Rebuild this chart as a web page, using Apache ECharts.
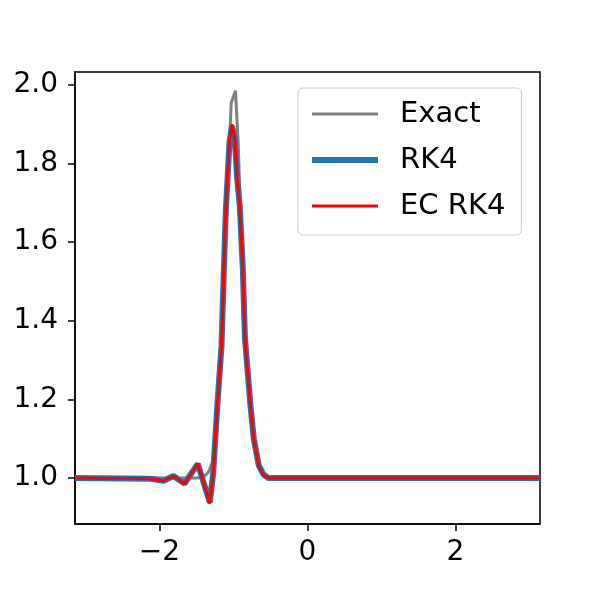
<!DOCTYPE html>
<html>
<head>
<meta charset="utf-8">
<script src="https://cdn.jsdelivr.net/npm/echarts@6/dist/echarts.min.js"></script>
<style>
  html, body { margin: 0; padding: 0; background: #fff; }
  #chart { width: 600px; height: 600px; }
</style>
</head>
<body>
<div id="chart"></div>
<script>
// exact solution samples
const xExact = [-3.1416, -1.514, -1.405, -1.338, -1.284, -1.230, -1.176, -1.122, -1.074,
  -1.031, -0.973, -0.936, -0.905, -0.865, -0.824, -0.770, -0.716, -0.662, -0.595, -0.527, 3.1416];
const yExact = [1.0, 1.0, 1.002, 1.015, 1.04, 1.12, 1.28, 1.52, 1.76,
  1.954, 1.985, 1.85, 1.67, 1.46, 1.30, 1.17, 1.08, 1.03, 1.008, 1.0, 1.0];

// numerical solutions (shared x samples)
const xNum = [-3.1416, -2.122, -1.946, -1.811, -1.662, -1.482, -1.320, -1.274, -1.220, -1.162,
  -1.135, -1.104, -1.054, -1.020, -0.982, -0.950, -0.915, -0.874, -0.845, -0.770,
  -0.726, -0.658, -0.595, -0.527, 3.1416];
const yRK4 = [1.0, 0.998, 0.993, 1.005, 0.986, 1.036, 0.938, 1.013, 1.18, 1.336,
  1.50, 1.68, 1.855, 1.895, 1.862, 1.762, 1.692, 1.532, 1.355, 1.184,
  1.10, 1.032, 1.009, 1.0, 1.0];
const yECRK4 = [1.0, 0.998, 0.993, 1.005, 0.985, 1.037, 0.935, 1.013, 1.181, 1.338,
  1.504, 1.682, 1.86, 1.90, 1.86, 1.758, 1.69, 1.529, 1.351, 1.181,
  1.097, 1.029, 1.008, 1.0, 1.0];

const yTicks = [1.0, 1.2, 1.4, 1.6, 1.8, 2.0];
const xTicks = [-2, 0, 2];

const pairs = (xs, ys) => xs.map((x, i) => [x, ys[i]]);

const chart = echarts.init(document.getElementById("chart"));
const font = "DejaVu Sans";

const option = {
  animation: false,
  grid: {
    left: 75, top: 72, right: 60, bottom: 76,
    show: true,
    borderColor: "#000",
    borderWidth: 1.5,
    backgroundColor: "#fff",
  },
  legend: {
    orient: "vertical",
    left: 298,
    top: 88,
    padding: [9, 16, 12, 11],
    itemWidth: 66,
    itemHeight: 14,
    itemGap: 12,
    borderColor: "#ccc",
    borderWidth: 1,
    borderRadius: 5,
    backgroundColor: "rgba(255,255,255,0.8)",
    itemStyle: { opacity: 0 }, // hide the circle marker
    textStyle: { fontFamily: font, fontSize: 29, color: "#000", lineHeight: 34, padding: [0, 0, 0, 17] },
    data: [
      { name: "Exact", lineStyle: { width: 3, color: "#808080" } },
      { name: "RK4", lineStyle: { width: 6, color: "#1f77b4" } },
      { name: "EC RK4", lineStyle: { width: 3, color: "#ff0000" } },
    ],
  },
  xAxis: {
    type: "value",
    min: -3.1416,
    max: 3.1416,
    splitLine: { show: false },
    axisLine: { show: true, onZero: false, lineStyle: { color: "#000", width: 1.5 } },
    axisTick: { show: true, length: 7, customValues: xTicks, lineStyle: { color: "#000", width: 1.5 } },
    axisLabel: {
      customValues: xTicks,
      margin: 15,
      fontFamily: font,
      fontSize: 28,
      color: "#000",
      formatter: (v) => String(v).replace("-", "\u2212"),
    },
  },
  yAxis: {
    type: "value",
    min: 0.883,
    max: 2.033,
    splitLine: { show: false },
    axisLine: { show: true, onZero: false, lineStyle: { color: "#000", width: 1.5 } },
    axisTick: { show: true, length: 7, customValues: yTicks, lineStyle: { color: "#000", width: 1.5 } },
    axisLabel: {
      customValues: yTicks,
      margin: 17,
      fontFamily: font,
      fontSize: 28,
      color: "#000",
      formatter: (v) => v.toFixed(1),
    },
  },
  series: [
    {
      name: "Exact",
      type: "line",
      symbol: "none",
      data: pairs(xExact, yExact),
      lineStyle: { color: "#808080", width: 3 },
      itemStyle: { color: "#808080" },
      z: 2,
    },
    {
      name: "RK4",
      type: "line",
      symbol: "none",
      data: pairs(xNum, yRK4),
      lineStyle: { color: "#1f77b4", width: 6 },
      itemStyle: { color: "#1f77b4" },
      z: 3,
    },
    {
      name: "EC RK4",
      type: "line",
      symbol: "none",
      data: pairs(xNum, yECRK4),
      lineStyle: { color: "#ff0000", width: 3 },
      itemStyle: { color: "#ff0000" },
      z: 4,
    },
  ],
};
chart.setOption(option);
</script>
</body>
</html>
